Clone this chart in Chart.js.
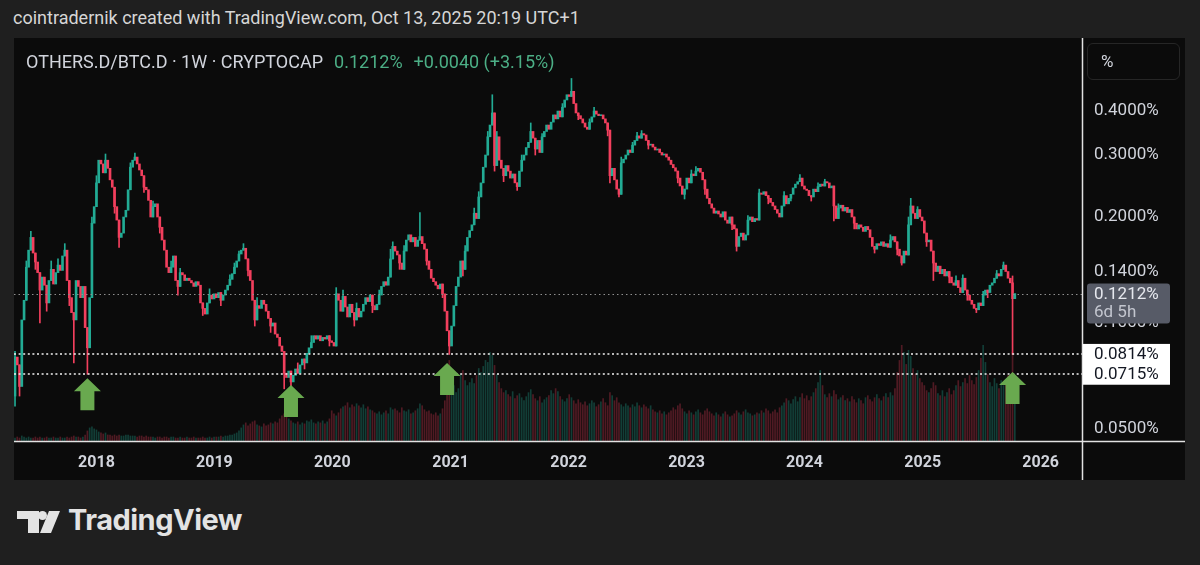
<!DOCTYPE html>
<html>
<head>
<meta charset="utf-8">
<script src="https://cdn.jsdelivr.net/npm/chart.js@4.4.1/dist/chart.umd.min.js"></script>
<style>
  html, body { margin: 0; padding: 0; width: 1200px; height: 565px; overflow: hidden; background: #1f1f1f; font-family: Roboto, "Noto Sans", sans-serif; }
  #header { position: absolute; left: 13px; top: 7px; font-size: 18px; color: #d6d6d6; white-space: pre; }
  #panel { position: absolute; left: 14px; top: 38px; width: 1171px; height: 442px; background: #0b0b0b; }
  #chartBox { position: absolute; left: 0; top: 0; width: 1171px; height: 442px; }
  #legend { position: absolute; left: 12px; top: 13px; font-size: 18px; color: #d1d4dc; white-space: pre; }
  #legend .up { color: #4caf86; margin-left: 11px; }
  #pctBtn { position: absolute; left: 1073px; top: 5px; width: 93px; height: 37px; box-sizing: border-box; border: 1px solid #262626; border-radius: 6px; color: #d1d4dc; font-size: 17px; line-height: 35px; padding-left: 13px; }
  #logo { position: absolute; left: 17px; top: 506px; }
  #logoText { position: absolute; left: 68px; top: 502px; font-family: Inter, Roboto, sans-serif; font-weight: 700; font-size: 29px; color: #e3e3e3; letter-spacing: -0.5px; }
</style>
</head>
<body>
<div id="header">cointradernik created with TradingView.com, Oct 13, 2025 20:19 UTC+1</div>
<div id="panel">
  <div id="chartBox"><canvas id="chart"></canvas></div>
  <div id="legend">OTHERS.D/BTC.D · 1W · CRYPTOCAP<span class="up">0.1212%</span><span class="up">+0.0040 (+3.15%)</span></div>
  <div id="pctBtn">%</div>
</div>
<svg id="logo" width="46" height="30" viewBox="0 0 46 30">
  <path d="M0 5 H22 V13 H0 Z M11 13 H22 V27 H11 Z" fill="#e3e3e3"/>
  <circle cx="25.5" cy="9.5" r="4.5" fill="#e3e3e3"/>
  <path d="M32 5 H43 L34 27 H23 Z" fill="#e3e3e3"/>
</svg>
<div id="logoText">TradingView</div>

<script>
// weekly candles, first week starting Mon 24 Apr 2017, values in % (OTHERS.D / BTC.D)
const firstWeek = Date.UTC(2017, 3, 24);
const firstOpen = 0.062;

const closes = [
  0.080,0.076,0.066,0.102,0.116,0.144,0.161,0.175,0.158,0.149,
  0.139,0.124,0.135,0.128,0.114,0.132,0.142,0.129,0.139,0.146,
  0.141,0.155,0.161,0.132,0.118,0.107,0.102,0.132,0.127,0.118,
  0.127,0.097,0.085,0.118,0.192,0.214,0.250,0.290,0.283,0.267,
  0.290,0.275,0.255,0.243,0.214,0.196,0.175,0.180,0.200,0.209,
  0.239,0.277,0.290,0.296,0.283,0.272,0.262,0.243,0.239,0.223,
  0.200,0.214,0.218,0.200,0.187,0.172,0.161,0.144,0.139,0.144,
  0.155,0.132,0.127,0.139,0.137,0.132,0.134,0.132,0.130,0.127,
  0.131,0.128,0.114,0.110,0.106,0.114,0.120,0.117,0.121,0.118,
  0.122,0.116,0.120,0.124,0.128,0.133,0.138,0.144,0.150,0.157,
  0.161,0.163,0.152,0.141,0.132,0.116,0.102,0.112,0.110,0.116,
  0.113,0.108,0.103,0.098,0.100,0.093,0.091,0.086,0.083,0.072,
  0.070,0.073,0.068,0.071,0.074,0.072,0.076,0.079,0.077,0.082,
  0.085,0.088,0.092,0.090,0.092,0.089,0.091,0.090,0.092,0.089,
  0.088,0.086,0.121,0.116,0.108,0.119,0.111,0.104,0.113,0.107,
  0.102,0.110,0.104,0.108,0.113,0.118,0.115,0.120,0.112,0.109,
  0.113,0.120,0.127,0.131,0.128,0.135,0.152,0.165,0.160,0.156,
  0.148,0.142,0.160,0.172,0.178,0.170,0.175,0.165,0.172,0.176,
  0.168,0.162,0.150,0.142,0.134,0.131,0.128,0.125,0.129,0.121,
  0.108,0.095,0.086,0.098,0.112,0.127,0.135,0.150,0.142,0.160,
  0.175,0.183,0.190,0.205,0.198,0.228,0.250,0.277,0.300,0.338,
  0.365,0.395,0.280,0.338,0.290,0.275,0.262,0.280,0.270,0.258,
  0.265,0.250,0.244,0.270,0.290,0.300,0.315,0.326,0.350,0.335,
  0.312,0.330,0.305,0.338,0.350,0.365,0.355,0.372,0.390,0.380,
  0.400,0.385,0.410,0.430,0.445,0.440,0.455,0.420,0.395,0.388,
  0.380,0.370,0.360,0.355,0.372,0.385,0.400,0.392,0.388,0.390,
  0.380,0.370,0.353,0.262,0.275,0.255,0.240,0.232,0.285,0.292,
  0.300,0.310,0.305,0.320,0.330,0.340,0.335,0.345,0.342,0.330,
  0.320,0.322,0.316,0.310,0.312,0.305,0.300,0.302,0.296,0.290,
  0.282,0.276,0.270,0.258,0.245,0.232,0.240,0.258,0.250,0.265,
  0.262,0.270,0.275,0.268,0.255,0.240,0.226,0.218,0.212,0.205,
  0.208,0.204,0.200,0.207,0.196,0.192,0.200,0.190,0.185,0.165,
  0.176,0.180,0.172,0.178,0.196,0.200,0.194,0.198,0.196,0.234,
  0.232,0.236,0.230,0.226,0.220,0.215,0.210,0.205,0.200,0.215,
  0.230,0.218,0.226,0.232,0.242,0.248,0.252,0.258,0.245,0.240,
  0.238,0.230,0.228,0.240,0.236,0.244,0.248,0.245,0.252,0.250,
  0.242,0.245,0.215,0.198,0.212,0.216,0.208,0.213,0.206,0.210,
  0.200,0.192,0.185,0.190,0.187,0.182,0.188,0.184,0.175,0.165,
  0.162,0.168,0.166,0.170,0.165,0.168,0.164,0.172,0.176,0.170,
  0.162,0.155,0.148,0.160,0.156,0.190,0.215,0.205,0.198,0.210,
  0.200,0.195,0.180,0.170,0.172,0.160,0.148,0.140,0.145,0.138,
  0.142,0.136,0.140,0.135,0.130,0.128,0.132,0.126,0.122,0.134,
  0.124,0.120,0.116,0.113,0.110,0.109,0.114,0.112,0.120,0.124,
  0.122,0.128,0.130,0.134,0.138,0.136,0.142,0.146,0.140,0.134,
  0.130,0.1172,0.1212
];

// visible wicks only (week index -> value)
const highWicks = {
  0: 0.083, 5: 0.150, 7: 0.182, 16: 0.150, 19: 0.152, 22: 0.168, 34: 0.200, 36: 0.262,
  40: 0.302, 51: 0.285, 53: 0.304, 61: 0.222, 69: 0.150, 73: 0.143, 86: 0.125, 95: 0.137,
  97: 0.148, 99: 0.160, 101: 0.168, 107: 0.118, 125: 0.077, 131: 0.092, 142: 0.126, 145: 0.124,
  151: 0.114, 161: 0.124, 166: 0.162, 167: 0.170, 172: 0.166, 179: 0.206, 199: 0.166, 203: 0.212,
  205: 0.236, 209: 0.350, 211: 0.445, 213: 0.350, 224: 0.300, 228: 0.370, 233: 0.345, 242: 0.420,
  246: 0.495, 254: 0.380, 256: 0.410, 268: 0.296, 273: 0.326, 275: 0.348, 277: 0.352, 299: 0.272,
  301: 0.278, 324: 0.202, 329: 0.240, 340: 0.236, 347: 0.264, 355: 0.250, 358: 0.256, 364: 0.218,
  387: 0.178, 395: 0.200, 396: 0.226, 399: 0.214, 416: 0.136, 419: 0.137, 428: 0.123, 434: 0.141,
  437: 0.149, 441: 0.136
};
const lowWicks = {
  0: 0.058, 2: 0.062, 9: 0.142, 11: 0.100, 14: 0.108, 24: 0.112, 26: 0.077, 32: 0.0715,
  44: 0.205, 46: 0.164, 57: 0.235, 64: 0.180, 72: 0.120, 83: 0.105, 91: 0.112, 103: 0.136,
  106: 0.098, 113: 0.094, 119: 0.065, 122: 0.066, 128: 0.074, 139: 0.086, 150: 0.098, 158: 0.107,
  170: 0.142, 182: 0.146, 189: 0.118, 192: 0.0814, 198: 0.136, 212: 0.270, 216: 0.252, 222: 0.238,
  230: 0.300, 249: 0.378, 262: 0.340, 263: 0.250, 267: 0.228, 280: 0.312, 293: 0.250, 296: 0.225,
  305: 0.232, 317: 0.184, 319: 0.160, 333: 0.218, 343: 0.222, 352: 0.222, 362: 0.195, 371: 0.185,
  380: 0.158, 390: 0.156, 392: 0.146, 403: 0.165, 406: 0.132, 413: 0.130, 421: 0.116, 425: 0.107,
  430: 0.118, 441: 0.0814
};

// volume (arbitrary units)
const volumes = [
  0.03,0.04,0.03,0.05,0.04,0.03,0.04,0.03,0.03,0.04, 0.03,0.04,0.03,0.03,0.04,0.03,0.03,0.04,0.03,0.03,
  0.04,0.03,0.03,0.04,0.03,0.04,0.05,0.04,0.04,0.03, 0.04,0.06,
  0.10,0.13,0.14,0.12,0.11,0.09,0.08,0.07,0.08,0.06,
  0.06,0.05,0.06,0.05,0.06,0.05,0.05,0.06,0.06,0.05, 0.05,0.05,0.04,0.05,0.05,0.04,0.05,0.04,
  0.04,0.04,0.03,0.04,0.04,0.03,0.04,0.04,0.03,0.04, 0.04,0.03,0.03,0.04,0.03,0.03,0.04,0.03,0.03,0.04,
  0.03,0.03,0.03,0.04,0.03,0.03,0.04,0.03,0.04,0.04, 0.04,0.05,0.04,0.05,0.05,0.06,0.06,0.07,0.08,0.10,
  0.13,0.16,0.18,0.15,0.17,0.19,0.20,0.16,0.15,0.14, 0.17,0.15,0.16,0.18,0.17,0.19,0.18,
  0.22,0.25,0.27,0.24,0.22,0.20,0.18,0.17,0.19,0.16, 0.18,0.17,0.20,0.19,0.21,0.18,0.17,0.19,0.18,0.20,
  0.17,0.19,0.22,0.30,0.27,0.25,0.28,0.32,0.34,
  0.35,0.38,0.33,0.36,0.34,0.37,0.35,0.33,0.36,0.32, 0.34,0.31,0.30,0.28,0.27,0.29,0.26,0.28,0.30,0.27,
  0.33,0.31,
  0.32,0.30,0.28,0.33,0.30,0.29,0.31,0.27,0.28,0.30, 0.32,0.37,0.35,0.31,0.29,0.30,0.27,0.26,0.28,0.25,
  0.27,0.32,0.40,
  0.58,0.80,0.62,0.55,0.48,0.52,0.66,0.70,0.60,0.55, 0.58,0.62,0.57,0.65,0.72,0.68,0.74,0.80,0.78,0.88,
  0.85,0.75,0.66,
  0.58,0.52,0.48,0.50,0.46,0.44,0.49,0.42,0.45,0.47, 0.43,0.40,0.44,0.48,0.51,0.46,0.42,0.40,0.44,0.38,
  0.41,0.43,0.45,0.50,0.47,0.52,0.49,0.44,0.41,0.39, 0.42,0.46,0.43,0.40,0.37,0.41,0.38,0.36,0.39,0.35,
  0.37,0.40,0.38,0.34,0.36,0.39,0.42,0.38,0.35,0.48, 0.45,0.40,0.43,0.38,0.36,0.34,0.37,0.35,0.33,0.36,
  0.34,0.38,0.35,0.33,0.36,0.34,0.32,0.35,
  0.31,0.29,0.28,0.30,0.27,0.29,0.26,0.28,0.30,0.33, 0.31,0.35,0.37,0.32,0.29,0.27,0.30,0.28,0.26,0.29,
  0.31,0.28,0.26,0.30,0.32,0.29,0.27,0.25,0.28,0.26, 0.24,0.27,0.29,0.26,0.24,0.25,0.27,0.30,0.28,0.26,
  0.29,0.31,0.28,0.27,0.25,0.26,0.28,0.27,0.30,0.28, 0.32,0.30,0.27,0.29,0.31,0.28,0.33,0.35,
  0.38,0.42,0.40,0.37,0.41,0.44,0.39,0.43,0.47,0.42, 0.45,0.40,0.44,0.48,0.52,0.58,0.70,0.55,0.46,0.43,
  0.47,0.44,0.50,0.46,0.41,0.43,0.45,0.40,0.42,0.39, 0.44,0.41,0.38,0.42,0.40,0.37,0.43,0.45,0.41,0.39,
  0.43,0.46,0.42,0.40,0.44,0.47,0.43,0.48,0.45,0.52,
  0.68,0.80,0.95,0.88,0.76,0.90,0.84,0.72,0.66,0.70, 0.62,0.58,
  0.55,0.50,0.48,0.52,0.58,0.55,0.47,0.45,0.50,0.44, 0.48,0.52,0.46,0.50,0.55,0.60,0.54,0.58,0.62,0.57,
  0.65,0.60,0.56,0.63,0.70,0.82,0.95,0.78,0.66,0.58, 0.54,0.62,0.57,0.52,0.60,0.55,0.58,0.65,0.62,0.88,
  0.40
];

const yearLabels = ['2018', '2019', '2020', '2021', '2022', '2023', '2024', '2025', '2026'];
const priceTicks = [0.05, 0.10, 0.14, 0.20, 0.30, 0.40];
const keyLevels = [0.0814, 0.0715];
const countdown = '6d 5h';
// green arrows under the lows: week index and arrow tip value
const arrowMarks = [
  { i: 32, v: 0.0697 },
  { i: 122, v: 0.0666 },
  { i: 191, v: 0.0770 },
  { i: 441, v: 0.0725 }
];

const upColor = '#22ab94';
const downColor = '#f23f5d';
const WEEK = 7 * 864e5;
const weekIndex = t => (t - firstWeek) / WEEK;

const opens = closes.map((c, i) => i === 0 ? firstOpen : closes[i - 1]);
const isUp = closes.map((c, i) => c >= opens[i]);
const lastClose = closes[closes.length - 1];

const bodies = closes.map((c, i) => ({ x: i, y: [opens[i], c] }));
const wickIdx = [...new Set([...Object.keys(highWicks), ...Object.keys(lowWicks)].map(Number))].sort((a, b) => a - b);
const wicks = wickIdx.map(i => {
  const lo = Math.min(opens[i], closes[i], lowWicks[i] ?? Infinity);
  const hi = Math.max(opens[i], closes[i], highWicks[i] ?? 0);
  return { x: i, y: [lo, hi] };
});
const vols = volumes.map((v, i) => ({ x: i, y: v }));

const overlays = {
  id: 'overlays',
  afterDraw(chart) {
    const { ctx, chartArea: a, scales: { x, y } } = chart;
    const W = chart.width, H = chart.height;
    ctx.save();

    // last price dotted line
    const lastY = Math.round(y.getPixelForValue(lastClose)) + 0.5;
    ctx.setLineDash([1.5, 3]);
    ctx.strokeStyle = '#8f8f8f';
    ctx.lineWidth = 1;
    ctx.beginPath(); ctx.moveTo(a.left, lastY); ctx.lineTo(a.right, lastY); ctx.stroke();

    // key level dotted lines
    ctx.setLineDash([2, 2.6]);
    ctx.strokeStyle = '#f2f2f2';
    ctx.lineWidth = 1.6;
    keyLevels.forEach(v => {
      const py = Math.round(y.getPixelForValue(v));
      ctx.beginPath(); ctx.moveTo(a.left, py); ctx.lineTo(a.right, py); ctx.stroke();
    });
    ctx.setLineDash([]);

    // arrows
    ctx.fillStyle = '#69a94f';
    arrowMarks.forEach(m => {
      const cx = x.getPixelForValue(m.i), ty = y.getPixelForValue(m.v);
      ctx.beginPath();
      ctx.moveTo(cx, ty);
      ctx.lineTo(cx + 13.5, ty + 13);
      ctx.lineTo(cx + 7, ty + 13);
      ctx.lineTo(cx + 7, ty + 32);
      ctx.lineTo(cx - 7, ty + 32);
      ctx.lineTo(cx - 7, ty + 13);
      ctx.lineTo(cx - 13.5, ty + 13);
      ctx.closePath();
      ctx.fill();
    });

    // frame lines (axis separators)
    ctx.strokeStyle = '#e2e2e2';
    ctx.lineWidth = 1.5;
    ctx.beginPath(); ctx.moveTo(a.right + 0.5, 0); ctx.lineTo(a.right + 0.5, H); ctx.stroke();
    ctx.beginPath(); ctx.moveTo(0, a.bottom + 0.5); ctx.lineTo(W, a.bottom + 0.5); ctx.stroke();

    // price labels on the axis
    ctx.font = '17px Roboto, "Noto Sans", sans-serif';
    ctx.textBaseline = 'middle';
    ctx.textAlign = 'left';
    const bx = a.right + 1;
    keyLevels.forEach(v => {
      const py = y.getPixelForValue(v);
      ctx.fillStyle = '#ffffff';
      ctx.fillRect(bx, py - 10.5, 87, 21);
      ctx.fillStyle = '#131722';
      ctx.fillText(v.toFixed(4) + '%', a.right + 12, py + 0.5);
    });
    ctx.fillStyle = '#575b67';
    ctx.beginPath();
    ctx.roundRect(bx + 4, lastY - 11, 83, 40, 3);
    ctx.fill();
    ctx.fillStyle = '#e6e8ee';
    ctx.fillText(lastClose.toFixed(4) + '%', a.right + 12, lastY + 0.5);
    ctx.fillStyle = '#c3c6cf';
    ctx.fillText(countdown, a.right + 12, lastY + 18.5);
    ctx.restore();
  }
};

new Chart(document.getElementById('chart'), {
  type: 'bar',
  data: {
    datasets: [
      {
        data: vols, yAxisID: 'yv', order: 3, grouped: false, barThickness: 1,
        backgroundColor: isUp.map(u => u ? 'rgba(34,171,148,0.32)' : 'rgba(242,63,93,0.3)')
      },
      {
        data: wicks, yAxisID: 'y', order: 2, grouped: false, barThickness: 1,
        backgroundColor: wickIdx.map(i => isUp[i] ? upColor : downColor)
      },
      {
        data: bodies, yAxisID: 'y', order: 1, grouped: false, barThickness: 2, minBarLength: 1,
        backgroundColor: isUp.map(u => u ? upColor : downColor)
      }
    ]
  },
  options: {
    responsive: true,
    maintainAspectRatio: false,
    animation: false,
    layout: { padding: 0 },
    plugins: { legend: { display: false }, tooltip: { enabled: false } },
    scales: {
      x: {
        type: 'linear',
        offset: false,
        min: -0.45,
        max: 471.7,
        grid: { display: false, drawTicks: false },
        border: { display: false },
        afterBuildTicks: s => { s.ticks = yearLabels.map(yr => ({ value: weekIndex(Date.UTC(+yr, 0, 1)) })); },
        afterFit: s => { s.height = 39; s.paddingLeft = 0; s.paddingRight = 0; },
        ticks: {
          autoSkip: false, maxRotation: 0, padding: 12,
          color: '#d1d4dc',
          font: { family: 'Roboto, "Noto Sans", sans-serif', size: 16, weight: 'bold' },
          callback: (v, idx) => yearLabels[idx]
        }
      },
      y: {
        type: 'logarithmic',
        position: 'right',
        min: 0.0462,
        max: 0.645,
        grid: { display: false, drawTicks: false },
        border: { display: false },
        afterBuildTicks: s => { s.ticks = priceTicks.map(v => ({ value: v })); },
        afterFit: s => { s.width = 103; s.paddingTop = 0; s.paddingBottom = 0; },
        ticks: {
          autoSkip: false, padding: 12,
          color: '#d1d4dc',
          font: { family: 'Roboto, "Noto Sans", sans-serif', size: 17 },
          callback: v => v.toFixed(4) + '%'
        }
      },
      yv: { type: 'linear', display: false, min: 0, max: 4 }
    }
  },
  plugins: [overlays]
});
</script>
</body>
</html>
